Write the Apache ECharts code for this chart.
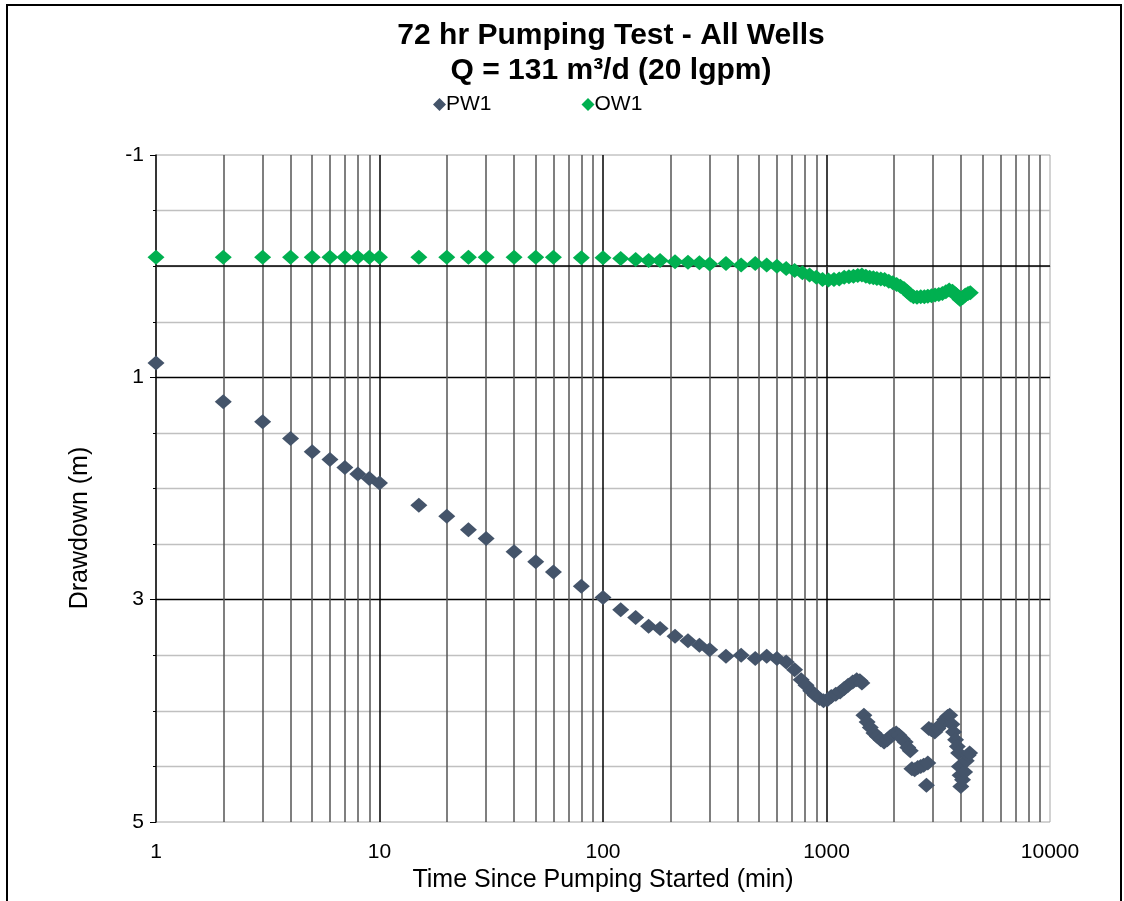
<!DOCTYPE html>
<html>
<head>
<meta charset="utf-8">
<title>72 hr Pumping Test - All Wells</title>
<script src="https://cdn.jsdelivr.net/npm/echarts@6/dist/echarts.min.js"></script>
<style>
    html, body { margin: 0; padding: 0; background: #fff; }
    #chart { position: absolute; left: 0; top: 0; width: 1124px; height: 901px; }
    #frame { position: absolute; left: 6px; top: 4px; width: 1112px; height: 940px;
             border: 2px solid #000; pointer-events: none; }
</style>
</head>
<body>
<div id="chart"></div>
<div id="frame"></div>
<script>
// PW1 drawdown: [time (min), drawdown (m)]
var pw1 = [
    [1, 0.87], [2, 1.22], [3, 1.40], [4, 1.55], [5, 1.67], [6, 1.74], [7, 1.81], [8, 1.87], [9, 1.91], [10, 1.95],
    [15, 2.15], [20, 2.25], [25, 2.37], [30, 2.45], [40, 2.57], [50, 2.66], [60, 2.75], [80, 2.88], [100, 2.98],
    [120, 3.09], [140, 3.16], [160, 3.24], [180, 3.26], [210, 3.33], [240, 3.37], [270, 3.41], [300, 3.45],
    [355, 3.51], [415, 3.50], [480, 3.53], [540, 3.51], [600, 3.53], [660, 3.56], [720, 3.63],
    [770, 3.72], [810, 3.77], [850, 3.82], [890, 3.86], [930, 3.89], [970, 3.91], [1010, 3.90],
    [1050, 3.87], [1100, 3.85], [1150, 3.83], [1200, 3.80], [1250, 3.77], [1310, 3.74], [1365, 3.72],
    [1410, 3.73], [1440, 3.75],
    [1470, 4.04], [1520, 4.10], [1570, 4.15], [1630, 4.20], [1690, 4.23], [1750, 4.26], [1810, 4.28],
    [1870, 4.26], [1930, 4.23], [1990, 4.21], [2050, 4.20], [2110, 4.22], [2180, 4.25], [2250, 4.28],
    [2310, 4.33], [2370, 4.36], [2410, 4.52], [2480, 4.53], [2560, 4.51], [2640, 4.50], [2720, 4.49],
    [2800, 4.67], [2840, 4.47], [2870, 4.16], [2950, 4.17], [3050, 4.19], [3150, 4.16], [3260, 4.12],
    [3380, 4.08], [3480, 4.05], [3560, 4.04], [3640, 4.12], [3700, 4.19], [3780, 4.26], [3850, 4.32],
    [3900, 4.38], [3930, 4.50], [3960, 4.58], [3990, 4.68], [4060, 4.62], [4150, 4.55], [4220, 4.45],
    [4300, 4.40], [4370, 4.38]
];

// OW1 drawdown: [time (min), drawdown (m)]
var ow1 = [
    [1, -0.08], [2, -0.08], [3, -0.08], [4, -0.08], [5, -0.08], [6, -0.08], [7, -0.08], [8, -0.08], [9, -0.08], [10, -0.08],
    [15, -0.08], [20, -0.08], [25, -0.08], [30, -0.08], [40, -0.08], [50, -0.08], [60, -0.08], [80, -0.075], [100, -0.075],
    [120, -0.07], [140, -0.06], [160, -0.05], [180, -0.05], [210, -0.04], [240, -0.035], [270, -0.03], [300, -0.02],
    [355, -0.025], [415, -0.01], [480, -0.025], [540, -0.01], [600, 0.0], [660, 0.02], [720, 0.04], [780, 0.06],
    [840, 0.08], [900, 0.10], [960, 0.12], [1020, 0.125], [1080, 0.12], [1140, 0.115], [1200, 0.10], [1260, 0.095],
    [1320, 0.09], [1380, 0.085], [1440, 0.08], [1500, 0.09], [1560, 0.10], [1620, 0.105], [1680, 0.11], [1750, 0.115],
    [1820, 0.12], [1900, 0.135], [1980, 0.15], [2060, 0.165], [2140, 0.18], [2220, 0.20], [2300, 0.23], [2380, 0.26],
    [2450, 0.275], [2540, 0.28], [2640, 0.275], [2740, 0.275], [2840, 0.27], [2950, 0.265], [3060, 0.26],
    [3180, 0.255], [3300, 0.245], [3420, 0.23], [3540, 0.215], [3660, 0.225], [3780, 0.25], [3880, 0.28],
    [3960, 0.30], [4060, 0.285], [4180, 0.26], [4300, 0.245], [4400, 0.24]
];

// minor vertical grid lines (log cycles)
var minorX = [2, 3, 4, 5, 6, 7, 8, 9, 20, 30, 40, 50, 60, 70, 80, 90,
    200, 300, 400, 500, 600, 700, 800, 900, 2000, 3000, 4000, 5000, 6000, 7000, 8000, 9000];

var font = "'Liberation Sans', Arial, sans-serif";

var chart = echarts.init(document.getElementById('chart'));

var option = {
    animation: false,
    backgroundColor: '#fff',
    title: {
        text: '72 hr Pumping Test - All Wells\nQ = 131 m³/d (20 lgpm)',
        left: 606,
        top: 13,
        textAlign: 'center',
        textStyle: {
            fontFamily: font,
            fontSize: 30,
            fontWeight: 'bold',
            color: '#000',
            lineHeight: 35
        }
    },
    legend: {
        data: ['PW1', 'OW1'],
        left: 428,
        top: 89,
        itemGap: 90,
        itemWidth: 13,
        itemHeight: 13,
        textStyle: { fontFamily: font, fontSize: 21, color: '#000', padding: [0, 0, 0, -5] }
    },
    grid: {
        left: 156,
        right: 74,
        top: 155,
        bottom: 79,
        show: true,
        borderColor: '#a6a6a6',
        borderWidth: 1
    },
    graphic: [{
        type: 'text',
        x: 80,
        y: 528,
        rotation: Math.PI / 2,
        style: {
            text: 'Drawdown (m)',
            fontFamily: font,
            fontSize: 25,
            fill: '#000',
            align: 'center',
            verticalAlign: 'middle'
        }
    }],
    xAxis: {
        type: 'log',
        logBase: 10,
        min: 1,
        max: 10000,
        name: 'Time Since Pumping Started (min)',
        nameLocation: 'middle',
        nameGap: 46,
        nameTextStyle: { fontFamily: font, fontSize: 25, color: '#000' },
        axisLine: { show: true, lineStyle: { color: '#a6a6a6', width: 1 } },
        axisTick: { show: false },
        axisLabel: {
            fontFamily: font, fontSize: 21, color: '#000', margin: 20,
            formatter: function (v) { return String(Math.round(v)); }
        },
        splitLine: { show: true, showMinLine: false, showMaxLine: false, lineStyle: { color: '#000', width: 1.5 } },
        minorTick: { show: false },
        minorSplitLine: { show: false }
    },
    yAxis: {
        type: 'value',
        inverse: true,
        min: -1,
        max: 5,
        interval: 2,
        axisLine: { show: true, lineStyle: { color: '#000', width: 1.5 } },
        axisTick: { show: true, inside: false, length: 6, lineStyle: { color: '#000' } },
        minorTick: { show: true, splitNumber: 4, length: 3, lineStyle: { color: '#000' } },
        axisLabel: { fontFamily: font, fontSize: 21, color: '#000', margin: 12 },
        splitLine: { show: true, showMinLine: false, showMaxLine: false, lineStyle: { color: '#000', width: 1.3 } },
        minorSplitLine: { show: true, lineStyle: { color: '#c0c0c0', width: 1.3 } }
    },
    series: [
        {
            name: 'grid',
            type: 'line',
            data: [],
            z: 1,
            silent: true,
            markLine: {
                silent: true,
                symbol: 'none',
                animation: false,
                label: { show: false },
                lineStyle: { color: '#555', width: 1.5, type: 'solid' },
                data: minorX.map(function (v) { return { xAxis: v }; })
                    .concat([{ yAxis: 0, lineStyle: { color: '#000', width: 1.5, type: 'solid' } }])
            }
        },
        {
            name: 'PW1',
            type: 'scatter',
            symbol: 'diamond',
            symbolSize: [17, 15],
            z: 5,
            itemStyle: { color: '#44546A', opacity: 1 },
            data: pw1
        },
        {
            name: 'OW1',
            type: 'scatter',
            symbol: 'diamond',
            symbolSize: [17, 15],
            z: 5,
            itemStyle: { color: '#00B050', opacity: 1 },
            data: ow1
        }
    ]
};

chart.setOption(option);
</script>
</body>
</html>
